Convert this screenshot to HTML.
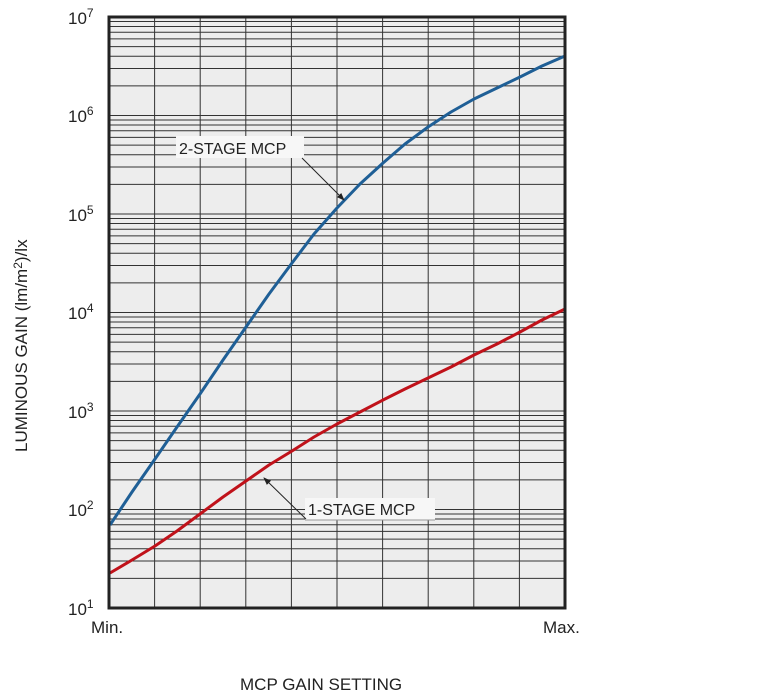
<!DOCTYPE html><html><head><style>body{margin:0;background:#fff}svg{display:block}text{font-family:"Liberation Sans",sans-serif;fill:#222}</style></head><body>
<svg width="768" height="700" viewBox="0 0 768 700" xmlns="http://www.w3.org/2000/svg">
<defs><marker id="ar" markerWidth="8" markerHeight="8" refX="7" refY="4" orient="auto" markerUnits="userSpaceOnUse"><path d="M0,1 L8,4 L0,7z" fill="#222"/></marker></defs>
<rect x="109" y="17" width="456" height="591" fill="#ededed"/>
<path stroke="#333" stroke-width="1" fill="none" d="M154.6,17V608M200.2,17V608M245.8,17V608M291.4,17V608M337,17V608M382.6,17V608M428.2,17V608M473.8,17V608M519.4,17V608
M109,578.35H565M109,561H565M109,548.7H565M109,539.15H565M109,531.35H565M109,524.76H565M109,519.05H565M109,514.01H565M109,509.5H565
M109,479.85H565M109,462.5H565M109,450.2H565M109,440.65H565M109,432.85H565M109,426.26H565M109,420.55H565M109,415.51H565M109,411H565
M109,381.35H565M109,364H565M109,351.7H565M109,342.15H565M109,334.35H565M109,327.76H565M109,322.05H565M109,317.01H565M109,312.5H565
M109,282.85H565M109,265.5H565M109,253.2H565M109,243.65H565M109,235.85H565M109,229.26H565M109,223.55H565M109,218.51H565M109,214H565
M109,184.35H565M109,167H565M109,154.7H565M109,145.15H565M109,137.35H565M109,130.76H565M109,125.05H565M109,120.01H565M109,115.5H565
M109,85.85H565M109,68.5H565M109,56.2H565M109,46.65H565M109,38.85H565M109,32.26H565M109,26.55H565M109,21.51H565"/>
<polyline points="110,525 132,492 155,459 177,427 200,394 223,360 246,327 269,294 292,263 314,234 337,208 360,184 383,163 405,144 428,127 451,112 474,99 497,88 520,77 542,66 565,56" fill="none" stroke="#1f5f96" stroke-width="3" stroke-linejoin="round"/>
<polyline points="110,573 132,560 155,546 177,531 200,514 223,497 246,481 269,465 292,451 314,437 337,424 360,412 383,400 405,389 428,378 451,367 474,355 497,344 520,332 542,320 565,309" fill="none" stroke="#c0121a" stroke-width="3" stroke-linejoin="round"/>
<rect x="109" y="17" width="456" height="591" fill="none" stroke="#222" stroke-width="3"/>
<rect x="176" y="136" width="128" height="22" fill="#f7f7f7"/>
<text x="179" y="154" font-size="16">2-STAGE MCP</text>
<line x1="302" y1="158" x2="344" y2="200" stroke="#222" stroke-width="1" marker-end="url(#ar)"/>
<rect x="305" y="498" width="130" height="22" fill="#f7f7f7"/>
<line x1="305" y1="520" x2="435" y2="520" stroke="#999" stroke-width="1"/>
<text x="308" y="515" font-size="16">1-STAGE MCP</text>
<line x1="306" y1="519" x2="264" y2="478" stroke="#222" stroke-width="1" marker-end="url(#ar)"/>
<g font-size="17">
<text x="68" y="24">10<tspan dy="-7" font-size="12">7</tspan></text>
<text x="68" y="122">10<tspan dy="-7" font-size="12">6</tspan></text>
<text x="68" y="221">10<tspan dy="-7" font-size="12">5</tspan></text>
<text x="68" y="319">10<tspan dy="-7" font-size="12">4</tspan></text>
<text x="68" y="418">10<tspan dy="-7" font-size="12">3</tspan></text>
<text x="68" y="516">10<tspan dy="-7" font-size="12">2</tspan></text>
<text x="68" y="615">10<tspan dy="-7" font-size="12">1</tspan></text>
<text x="91" y="633">Min.</text>
<text x="543" y="633">Max.</text>
<text x="240" y="690">MCP GAIN SETTING</text>
<text transform="translate(27,452) rotate(-90)">LUMINOUS GAIN (lm/m<tspan dy="-5" font-size="12">2</tspan><tspan dy="5">)/lx</tspan></text>
</g>
</svg></body></html>
